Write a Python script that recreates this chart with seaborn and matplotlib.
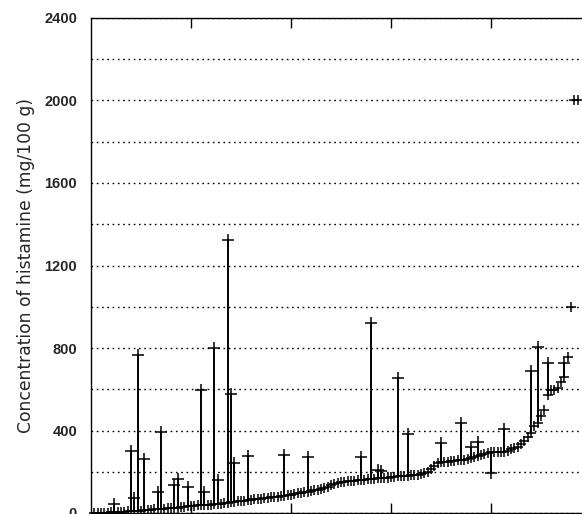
import matplotlib
matplotlib.use("Agg")
import matplotlib.pyplot as plt
import seaborn as sns
import pandas as pd
import numpy as np

# Histamine concentration per sample (mg/100 g), samples sorted by the lower value
base_value = [
    0, 1, 1, 2, 2, 3, 3, 4, 5, 6,
    8, 9, 10, 11, 12, 13, 14, 15, 17, 18,
    20, 21, 22, 24, 25, 26, 28, 30, 32, 34,
    36, 37, 38, 39, 40, 41, 42, 44, 46, 48,
    50, 52, 54, 56, 58, 60, 62, 64, 66, 68,
    70, 72, 74, 76, 78, 80, 82, 84, 86, 89,
    92, 95, 98, 101, 104, 107, 110, 113, 116, 119,
    125, 135, 142, 146, 149, 151, 153, 155, 157, 158,
    160, 162, 164, 165, 167, 168, 170, 171, 172, 174,
    176, 178, 179, 180, 181, 182, 184, 186, 188, 192,
    199, 215, 230, 242, 245, 247, 249, 251, 253, 255,
    257, 259, 262, 268, 273, 278, 283, 288, 292, 296,
    296, 296, 296, 298, 302, 308, 314, 322, 335, 350,
    369, 390, 420, 436, 470, 500, 572, 596, 598, 605,
    635, 660, 756, 1000, 2000, 2000,
]

# Samples (1-based position) whose second determination differs from the first
range_sample = [7, 12, 13, 14, 16, 20, 21, 25, 26, 29,
                33, 34, 37, 38, 41, 42, 43, 47, 58, 65,
                81, 84, 86, 87, 92, 95, 105, 111, 114, 116,
                120, 124, 132, 134, 137, 142]
range_value = [45, 300, 75, 766, 260, 100, 395, 135, 165, 125,
               596, 100, 800, 160, 1324, 578, 242, 278, 283, 272,
               272, 921, 208, 205, 655, 383, 340, 436, 320, 342,
               194, 407, 688, 805, 727, 727]

y_ticks = [0, 400, 800, 1200, 1600, 2000, 2400]
y_label = "Concentration of histamine (mg/100 g)"

sample = list(range(1, len(base_value) + 1))
df_base = pd.DataFrame({"sample": sample, "value": base_value})
df_range = pd.DataFrame({"sample": range_sample, "value": range_value})
df_range["base"] = [base_value[s - 1] for s in range_sample]

sns.set_style("white")
plt.rcParams["font.family"] = ["Liberation Sans", "DejaVu Sans"]

fig = plt.figure(figsize=(5.82, 5.14), dpi=100)
ax = fig.add_axes([91 / 582, 1 / 514, 500 / 582, 495 / 514])

ax.vlines(df_range["sample"], df_range["base"], df_range["value"],
          color="black", linewidth=1.4, zorder=3)
sns.scatterplot(data=df_base, x="sample", y="value", marker="+", s=50,
                color="black", linewidth=1.1, ax=ax, zorder=4, clip_on=False,
                legend=False)
sns.scatterplot(data=df_range, x="sample", y="value", marker="+", s=70,
                color="black", linewidth=1.1, ax=ax, zorder=4, clip_on=False,
                legend=False)

ax.set_xlim(0, 150)
ax.set_ylim(0, 2400)
ax.set_yticks(y_ticks)
ax.set_yticks(np.arange(200, 2400, 200), minor=True)
ax.yaxis.grid(True, which="both", linestyle=(0, (1.2, 2.6)), color="black",
              linewidth=1.0)
ax.set_axisbelow(True)
ax.set_xticks([30, 60, 90, 120])
ax.set_xticklabels([])
ax.tick_params(axis="x", which="both", direction="in", length=7, top=True,
               bottom=True, color="black", width=1)
ax.tick_params(axis="y", which="both", length=0, pad=10, labelsize=10.5)
for lab in ax.get_yticklabels():
    lab.set_fontweight("bold")
ax.set_xlabel("")
ax.set_ylabel(y_label, fontsize=12.3, family=["DejaVu Sans"], labelpad=7)
for side in ["left", "top", "bottom", "right"]:
    ax.spines[side].set_color("black")
    ax.spines[side].set_linewidth(1.0)

fig.savefig("out.png", dpi=100)
